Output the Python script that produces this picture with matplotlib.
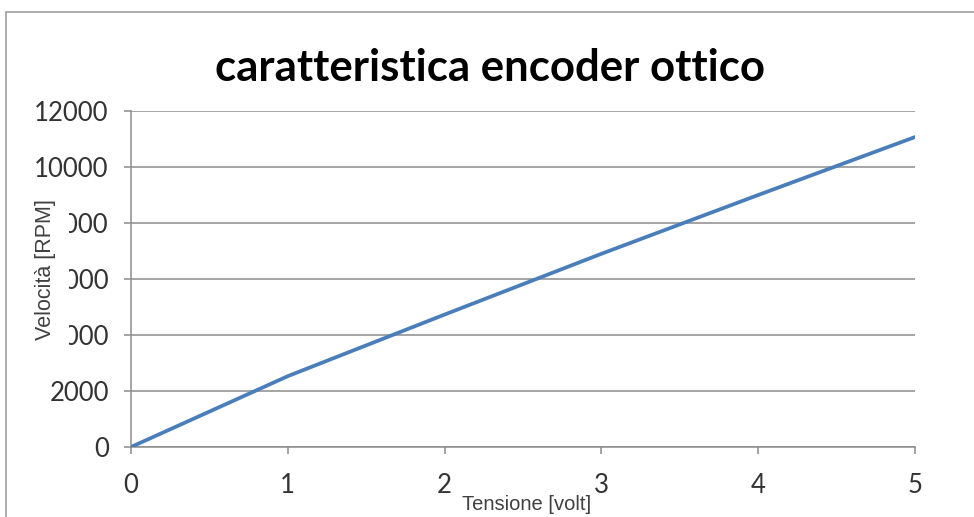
import matplotlib
matplotlib.use("Agg")
import matplotlib.pyplot as plt
from matplotlib.patches import Rectangle

# tensione applicata [V] e velocita' misurata [RPM]
tensione = [0, 1, 2, 3, 4, 5]
velocita = [0, 2530, 4730, 6900, 9000, 11070]

x_ticks = [0, 1, 2, 3, 4, 5]
y_ticks = [0, 2000, 4000, 6000, 8000, 10000, 12000]

W, H = 974, 517
fig = plt.figure(figsize=(W / 100, H / 100), dpi=100)
fig.patch.set_facecolor("white")

# bordo dell'area grafico
fig.patches.append(Rectangle((6 / W, -0.05), 1.0, 1 - 12 / H + 0.05,
                             transform=fig.transFigure, fill=False,
                             edgecolor="#a0a0a0", lw=1.2))

ax = fig.add_axes([131 / W, 1 - 447 / H, (915 - 131) / W, (447 - 111) / H])
ax.plot(tensione, velocita, color="#4a7ebb", lw=2.7, solid_capstyle="round", zorder=3)

ax.set_xlim(0, 5)
ax.set_ylim(0, 12000)
ax.set_xticks(x_ticks)
ax.set_yticks(y_ticks)
ax.yaxis.grid(True, color="#8c8c8c", lw=1.1)
ax.set_axisbelow(True)
for s in ("top", "right"):
    ax.spines[s].set_visible(False)
for s in ("left", "bottom"):
    ax.spines[s].set_color("#8c8c8c")
    ax.spines[s].set_linewidth(1.1)
ax.tick_params(axis="both", direction="out", length=5, width=1.1, color="#8c8c8c",
               labelsize=18.5, labelcolor="#333333")
ax.tick_params(axis="x", pad=14)
ax.tick_params(axis="y", pad=11)
for lab in ax.get_xticklabels() + ax.get_yticklabels():
    lab.set_fontfamily("Lato")

fig.text(490 / W, 1 - 68 / H, "caratteristica encoder ottico", ha="center", va="center",
         fontsize=31.5, fontweight="bold", family="Lato", color="black")

# le etichette degli assi hanno sfondo bianco e coprono parte dei numeri
fig.text(46 / W, 1 - 270 / H, "Velocità [RPM]", rotation=90, ha="center", va="center",
         fontsize=15.5, family="Liberation Sans", color="#404040",
         bbox=dict(facecolor="white", edgecolor="none", pad=9), zorder=5)
fig.text(527 / W, 1 - 505 / H, "Tensione [volt]", ha="center", va="center",
         fontsize=14.5, family="Liberation Sans", color="#404040",
         bbox=dict(facecolor="white", edgecolor="none", pad=1), zorder=5)

fig.savefig("out.png", dpi=100)
